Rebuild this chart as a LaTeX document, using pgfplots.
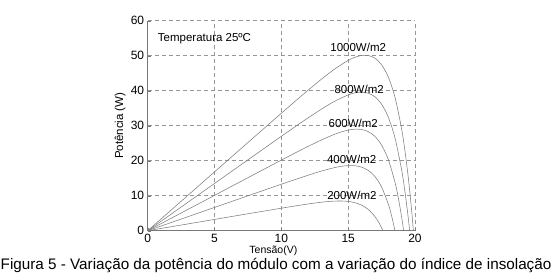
\documentclass[border=0pt]{standalone}
\usepackage{fontspec}
\setmainfont{Liberation Sans}
\usepackage{pgfplots}
\pgfplotsset{compat=1.18}
\definecolor{curve}{RGB}{125,125,125}
\definecolor{gridc}{RGB}{150,150,150}
\definecolor{axc}{RGB}{120,120,120}
\begin{document}
\begin{tikzpicture}
\useasboundingbox (-147.7pt,-48.3pt) rectangle (404.3pt,230.7pt);
\begin{axis}[
  at={(0,0)}, anchor=south west,
  scale only axis, width=267.3pt, height=210pt,
  xmin=0, xmax=20, ymin=0, ymax=60,
  xtick={0,5,10,15,20}, ytick={0,10,20,30,40,50,60},
  axis x line=bottom, axis y line=left,
  axis line style={axc, -, line width=0.6pt},
  grid=major, grid style={dashed, gridc, line width=0.5pt, dash pattern=on 4pt off 3pt},
  tick style={axc}, major tick length=3pt, tick align=inside,
  ticklabel style={font=\fontsize{12}{12}\selectfont},
  /pgf/number format/assume math mode=true,
  xlabel={Tensão(V)}, ylabel={Potência (W)},
  xlabel style={font=\fontsize{10.5}{10.5}\selectfont, at={(axis description cs:0.47,-0.0967)}, anchor=center},
  ylabel style={font=\fontsize{11.5}{11.5}\selectfont, at={(axis description cs:-0.1036,0.5)}, anchor=center},
  clip=false,
]
% 1000 W/m2
\addplot[color=curve, line width=0.55pt, smooth, mark=none] coordinates {(0,0) (2,6.72) (4,13.44) (6,20.16) (8,26.87) (10,33.56) (11,36.88) (12,40.14) (13,43.30) (14,46.22) (15,48.66) (15.5,49.54) (16,50.06) (16.5,50.05) (17,49.28) (17.5,47.41) (18,43.94) (18.5,38.17) (19,29.05) (19.25,22.77) (19.5,15.10) (19.75,5.71) (19.88,0)};
% 800 W/m2
\addplot[color=curve, line width=0.55pt, smooth, mark=none] coordinates {(0,0) (2,5.40) (4,10.80) (6,16.20) (8,21.59) (10,26.96) (11,29.62) (12,32.23) (13,34.73) (14,37.01) (15,38.80) (15.5,39.38) (16,39.59) (16.5,39.30) (17,38.26) (17.5,36.15) (18,32.47) (18.5,26.56) (19,17.38) (19.25,11.14) (19.5,3.51) (19.6,0)};
% 600 W/m2
\addplot[color=curve, line width=0.55pt, smooth, mark=none] coordinates {(0,0) (2,4.04) (4,8.08) (6,12.12) (8,16.15) (10,20.17) (11,22.15) (12,24.09) (13,25.94) (14,27.57) (14.5,28.23) (15,28.74) (15.5,29.00) (16,28.91) (16.5,28.31) (17,26.95) (17.5,24.47) (18,20.37) (18.5,13.88) (18.75,9.41) (19,3.90) (19.15,0)};
% 400 W/m2
\addplot[color=curve, line width=0.55pt, smooth, mark=none] coordinates {(0,0) (2,2.66) (4,5.32) (6,7.98) (8,10.64) (10,13.28) (11,14.58) (12,15.85) (13,17.04) (14,18.04) (14.5,18.40) (15,18.60) (15.5,18.56) (16,18.17) (16.5,17.23) (17,15.48) (17.5,12.49) (18,7.64) (18.25,4.25) (18.5,0)};
% 200 W/m2
\addplot[color=curve, line width=0.55pt, smooth, mark=none] coordinates {(0,0) (2,1.29) (4,2.58) (6,3.87) (8,5.16) (10,6.43) (11,7.05) (12,7.64) (13,8.14) (13.5,8.34) (14,8.46) (14.5,8.49) (15,8.37) (15.5,8.01) (16,7.31) (16.5,6.08) (17,4.05) (17.3,2.30) (17.6,0)};
\begin{scope}[every node/.style={font=\fontsize{11.5}{11.5}\selectfont, inner sep=0pt, anchor=base}]
\node at (axis cs:15.75,51.1) {1000W/m2};
\node at (axis cs:15.82,39.06) {800W/m2};
\node at (axis cs:15.38,29.5) {600W/m2};
\node at (axis cs:15.26,19.26) {400W/m2};
\node at (axis cs:15.28,8.97) {200W/m2};
\node[anchor=base west] at (axis cs:0.75,54.2) {Temperatura 25ºC};
\end{scope}
\end{axis}
\node[anchor=base west, inner sep=0pt, font=\fontsize{15.25}{15.25}\selectfont] at (-147.2pt,-38.6pt) {Figura 5 - Variação da potência do módulo com a variação do índice de insolação};
\end{tikzpicture}
\end{document}
